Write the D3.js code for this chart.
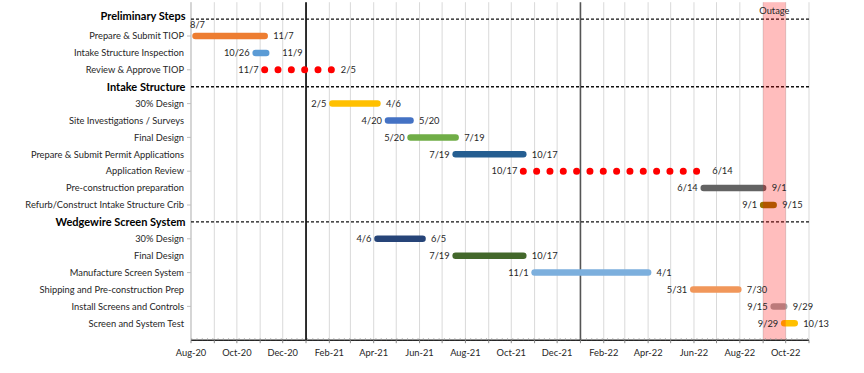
<!DOCTYPE html>
<html>
<head>
<meta charset="utf-8">
<script src="https://cdn.jsdelivr.net/npm/d3@7"></script>
<style>
  html, body { margin: 0; padding: 0; background: #fff; }
  svg { display: block; }
  text { font-family: Lato, "Open Sans", sans-serif; }
</style>
</head>
<body>
<svg id="chart" width="864" height="373"></svg>
<script>
// ---------- DATA ----------
const rowNames = [
  "Preliminary Steps",
  "Prepare & Submit TIOP",
  "Intake Structure Inspection",
  "Review & Approve TIOP",
  "Intake Structure",
  "30% Design",
  "Site Investigations / Surveys",
  "Final Design",
  "Prepare & Submit Permit Applications",
  "Application Review",
  "Pre-construction preparation",
  "Refurb/Construct Intake Structure Crib",
  "Wedgewire Screen System",
  "30% Design",
  "Final Design",
  "Manufacture Screen System",
  "Shipping and Pre-construction Prep",
  "Install Screens and Controls",
  "Screen and System Test"
];
const headerRows = ["Preliminary Steps", "Intake Structure", "Wedgewire Screen System"];
const startDates = [
  null, "2020-08-07", "2020-10-26", "2020-11-07",
  null, "2021-02-05", "2021-04-20", "2021-05-20", "2021-07-19", "2021-10-17", "2022-06-14", "2022-09-01",
  null, "2021-04-06", "2021-07-19", "2021-11-01", "2022-05-31", "2022-09-15", "2022-09-29"
];
const endDates = [
  null, "2020-11-07", "2020-11-09", "2021-02-05",
  null, "2021-04-06", "2021-05-20", "2021-07-19", "2021-10-17", "2022-06-14", "2022-09-01", "2022-09-15",
  null, "2021-06-05", "2021-10-17", "2022-04-01", "2022-07-30", "2022-09-29", "2022-10-13"
];
const dottedTasks = ["Review & Approve TIOP", "Application Review"];
const yearMarkers = ["2021-01-01", "2022-01-01"];
const outageWindow = ["2022-09-01", "2022-10-01"];
const outageLabel = "Outage";
const axisRange = ["2020-08-01", "2022-11-01"];
const barColors = [
  null, "#ED7D31", "#5B9BD5", "#FF0000",
  null, "#FFC000", "#4472C4", "#70AD47", "#255E91", "#FF0000", "#636363", "#997300",
  null, "#264478", "#43682B", "#7CAFDD", "#F1975A", "#A5A5A5", "#FFC000"
];

// ---------- SETUP ----------
const parse = d3.utcParse("%Y-%m-%d");
const fmtLabel = d3.utcFormat("%-m/%-d");
const fmtAxis = d3.utcFormat("%b-%y");

const svg = d3.select("#chart");
const plotL = 191, plotR = 809, plotT = 2.2, plotB = 340.2;

const x = d3.scaleUtc().domain(axisRange.map(parse)).range([plotL, plotR]);
const y = d3.scaleLinear().domain([-1, 19]).range([plotT, plotB]);

const tasks = rowNames.map((name, i) => ({
  name, i,
  header: headerRows.includes(name) && startDates[i] === null,
  start: startDates[i] ? parse(startDates[i]) : null,
  end: endDates[i] ? parse(endDates[i]) : null,
  color: barColors[i],
  dotted: dottedTasks.includes(name)
}));

// gridlines (monthly)
const months = d3.utcMonth.range(parse(axisRange[0]), d3.utcDay.offset(parse(axisRange[1]), 1));
svg.append("g").selectAll("line").data(months).join("line")
  .attr("x1", d => x(d)).attr("x2", d => x(d))
  .attr("y1", plotT).attr("y2", plotB)
  .attr("stroke", "#D9D9D9").attr("stroke-width", 1);

// year boundary lines
svg.append("g").selectAll("line").data(yearMarkers.map(parse)).join("line")
  .attr("x1", d => x(d)).attr("x2", d => x(d))
  .attr("y1", plotT).attr("y2", plotB)
  .attr("stroke", (d, i) => i === 0 ? "#000" : "#555")
  .attr("stroke-width", 1.6);

// left axis line + ticks at odd rows
svg.append("line").attr("x1", plotL).attr("x2", plotL).attr("y1", plotT).attr("y2", plotB)
  .attr("stroke", "#BFBFBF").attr("stroke-width", 1);
svg.append("g").selectAll("line").data(d3.range(1, 19, 2)).join("line")
  .attr("x1", plotL - 4).attr("x2", plotL).attr("y1", d => y(d)).attr("y2", d => y(d))
  .attr("stroke", "#BFBFBF").attr("stroke-width", 1);

// header dashed lines
svg.append("g").selectAll("line").data(tasks.filter(t => t.header)).join("line")
  .attr("x1", plotL).attr("x2", plotR)
  .attr("y1", d => y(d.i)).attr("y2", d => y(d.i))
  .attr("stroke", "#111").attr("stroke-width", 1.4)
  .attr("stroke-dasharray", "3,2");

// bars
const barTasks = tasks.filter(t => t.start && !t.dotted);
svg.append("g").selectAll("line").data(barTasks).join("line")
  .attr("x1", d => x(d.start)).attr("x2", d => x(d.end))
  .attr("y1", d => y(d.i)).attr("y2", d => y(d.i))
  .attr("stroke", d => d.color).attr("stroke-width", 6.5)
  .attr("stroke-linecap", "round");

// dotted tasks
const dotTasks = tasks.filter(t => t.start && t.dotted);
svg.append("g").selectAll("line").data(dotTasks).join("line")
  .attr("x1", d => x(d.start)).attr("x2", d => x(d.end))
  .attr("y1", d => y(d.i)).attr("y2", d => y(d.i))
  .attr("stroke", d => d.color).attr("stroke-width", 7)
  .attr("stroke-linecap", "round")
  .attr("stroke-dasharray", "0,13.33");

// outage band (translucent overlay)
const [o0, o1] = outageWindow.map(parse);
svg.append("rect")
  .attr("x", x(o0)).attr("y", plotT)
  .attr("width", x(o1) - x(o0)).attr("height", plotB - plotT)
  .attr("fill", "#FF0000").attr("fill-opacity", 0.26);
svg.append("text")
  .attr("x", (x(o0) + x(o1)) / 2).attr("y", 13.5)
  .attr("text-anchor", "middle").attr("font-size", 9.3).attr("fill", "#262626")
  .text(outageLabel);

// bottom axis
svg.append("line").attr("x1", plotL).attr("x2", plotR).attr("y1", plotB).attr("y2", plotB)
  .attr("stroke", "#262626").attr("stroke-width", 1.4);
svg.append("g").selectAll("line").data(d3.utcWeek.range(parse(axisRange[0]), parse(axisRange[1]))).join("line")
  .attr("x1", d => x(d)).attr("x2", d => x(d))
  .attr("y1", plotB - 2).attr("y2", plotB)
  .attr("stroke", "#999").attr("stroke-width", 0.8);
svg.append("g").selectAll("line").data(months).join("line")
  .attr("x1", d => x(d)).attr("x2", d => x(d))
  .attr("y1", plotB).attr("y2", plotB + 3)
  .attr("stroke", "#888").attr("stroke-width", 1);
const axisTicks = months.filter((d, i) => i % 2 === 0);
svg.append("g").selectAll("text").data(axisTicks).join("text")
  .attr("x", d => x(d)).attr("y", 356)
  .attr("text-anchor", "middle").attr("font-size", 9.3).attr("fill", "#262626")
  .text(d => fmtAxis(d));

// row labels
svg.append("g").selectAll("text").data(tasks).join("text")
  .attr("x", d => d.header ? 185.5 : 184)
  .attr("y", d => y(d.i) + (d.i === 0 ? -3 : 0))
  .attr("dy", "0.35em")
  .attr("text-anchor", "end")
  .attr("font-size", d => d.header ? 11 : 9.3)
  .attr("font-weight", d => d.header ? "bold" : "normal")
  .attr("fill", d => d.header ? "#000" : "#262626")
  .text(d => d.name);

// date labels
const labelled = tasks.filter(t => t.start);
svg.append("g").selectAll("text").data(labelled).join("text")
  .attr("x", d => d.i === 1 ? 190 : x(d.start) - 6)
  .attr("y", d => d.i === 1 ? y(d.i) - 11 : y(d.i))
  .attr("dy", "0.35em")
  .attr("text-anchor", d => d.i === 1 ? "start" : "end")
  .attr("font-size", 9.3).attr("fill", "#262626")
  .text(d => fmtLabel(d.start));
svg.append("g").selectAll("text").data(labelled).join("text")
  .attr("x", d => x(d.end) + (d.i === 2 ? 16 : 8.5))
  .attr("y", d => y(d.i))
  .attr("dy", "0.35em")
  .attr("text-anchor", "start")
  .attr("font-size", 9.3).attr("fill", "#262626")
  .text(d => fmtLabel(d.end));
</script>
</body>
</html>
